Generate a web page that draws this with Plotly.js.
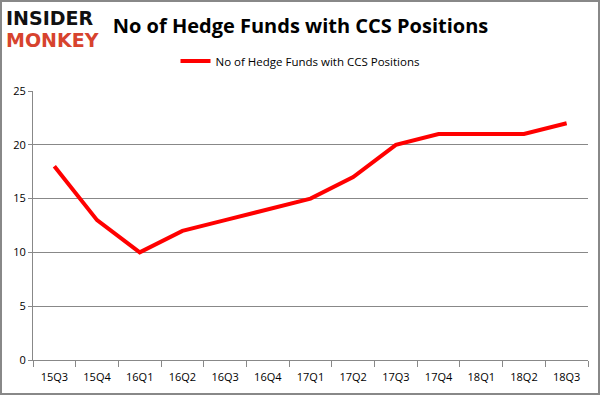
<!DOCTYPE html>
<html><head><meta charset="utf-8">
<script src="https://cdn.plot.ly/plotly-3.0.1.min.js"></script>
<style>html,body{margin:0;padding:0;background:#fff}#chart{width:601px;height:396px}</style>
</head><body><div id="chart"></div>
<script>
const quarters = ["15Q3","15Q4","16Q1","16Q2","16Q3","16Q4","17Q1","17Q2","17Q3","17Q4","18Q1","18Q2","18Q3"];
const hedgeFunds = [18,13,10,12,13,14,15,17,20,21,21,21,22];
const seriesName = "No of Hedge Funds with CCS Positions";
const yTicks = [0,5,10,15,20,25];

const trace = {
  x: quarters, y: hedgeFunds, type: "scatter", mode: "lines",
  name: seriesName, line: {color: "#ff0000", width: 4}
};
const layout = {
  width: 601, height: 396,
  margin: {l: 33, r: 13, t: 91, b: 36},
  paper_bgcolor: "#fff", plot_bgcolor: "#fff",
  font: {family: "Open Sans, Noto Sans, sans-serif", color: "#000", size: 11},
  title: {text: "<b>No of Hedge Funds with CCS Positions</b>", x: 0.5, xanchor: "center", y: 0.935, yanchor: "middle",
          font: {size: 20, family: "Open Sans, sans-serif", color: "#000"}},
  showlegend: true,
  legend: {orientation: "h", x: (300-33)/555, xanchor: "center", y: 1 + (91-61)/269, yanchor: "middle", font: {size: 11.5}},
  xaxis: {type: "category", range: [-0.5, 12.5], tickson: "boundaries", ticks: "outside", ticklen: 6,
          tickcolor: "#888", showline: true, linecolor: "#888", linewidth: 1, showgrid: false,
          ticklabelstandoff: 7, tickfont: {size: 11}, fixedrange: true},
  yaxis: {range: [0, 25], tickvals: yTicks, ticks: "outside", ticklen: 4, tickcolor: "#888",
          showline: true, linecolor: "#888", linewidth: 1, gridcolor: "#888", gridwidth: 1,
          zeroline: false, tickfont: {size: 11}, fixedrange: true},
  shapes: [{type: "rect", xref: "paper", yref: "paper",
    x0: -32/555, x1: 1 + 11/555, y0: -34/269, y1: 1 + 90/269, line: {color: "#888", width: 2}}],
  annotations: [
    {text: "<b>INSIDER</b>", xref: "paper", yref: "paper", x: -29/555, y: 1 + (91-18)/269, xanchor: "left", yanchor: "middle",
     showarrow: false, font: {family: "DejaVu Sans, sans-serif", size: 19, color: "#111"}},
    {text: "<b>MONKEY</b>", xref: "paper", yref: "paper", x: -29/555, y: 1 + (91-40)/269, xanchor: "left", yanchor: "middle",
     showarrow: false, font: {family: "DejaVu Sans, sans-serif", size: 19, color: "#d7432e"}}
  ]
};
Plotly.newPlot("chart", [trace], layout, {displayModeBar: false, staticPlot: true});
</script></body></html>
